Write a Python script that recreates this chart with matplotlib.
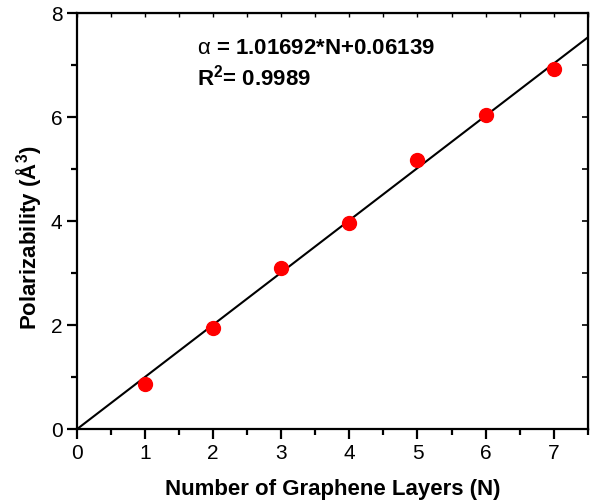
import numpy as np
import matplotlib.pyplot as plt
from matplotlib.ticker import MultipleLocator

plt.rcParams['font.family'] = ['Liberation Sans', 'DejaVu Sans']
plt.rcParams['mathtext.fontset'] = 'custom'
plt.rcParams['mathtext.rm'] = 'Liberation Sans'
plt.rcParams['mathtext.bf'] = 'Liberation Sans:bold'

# data
layers = [1, 2, 3, 4, 5, 6, 7]
polarizability = [0.86, 1.94, 3.10, 3.97, 5.17, 6.04, 6.92]
fit_x = [0.0, 7.5]
fit_y = [0.0, 7.53]

fig = plt.figure(figsize=(5.93, 5.03), dpi=100)
ax = fig.add_axes([0.13, 0.147, 0.861, 0.827])

ax.plot(fit_x, fit_y, color='black', lw=1.5, zorder=2)
ax.plot(layers, polarizability, 'o', color='red', ms=10, mec='red', zorder=3)

ax.set_xlim(0, 7.5)
ax.set_ylim(0, 8)
ax.xaxis.set_major_locator(MultipleLocator(1))
ax.xaxis.set_minor_locator(MultipleLocator(0.5))
ax.yaxis.set_major_locator(MultipleLocator(2))
ax.yaxis.set_minor_locator(MultipleLocator(1))

for s in ax.spines.values():
    s.set_linewidth(1.6)
ax.tick_params(which='major', direction='out', length=7, width=1.6, labelsize=15)
ax.tick_params(which='minor', direction='out', length=4, width=1.6)
ax.tick_params(which='both', top=False, right=False)

# inward ticks on top and right, no labels
sec_x = ax.secondary_xaxis('top')
sec_x.xaxis.set_major_locator(MultipleLocator(0.5))
sec_x.tick_params(which='major', direction='in', length=3, width=1.0, labeltop=False)
sec_x.tick_params(which='minor', length=0)
sec_y = ax.secondary_yaxis('right')
sec_y.yaxis.set_major_locator(MultipleLocator(1))
sec_y.tick_params(which='major', direction='in', length=4, width=1.2, labelright=False)
sec_y.tick_params(which='minor', length=0)

ax.set_xlabel('Number of Graphene Layers (N)', fontsize=16, fontweight='bold', labelpad=12)
ax.set_ylabel('Polarizability (Å$^\\mathbf{3}$)', fontsize=16, fontweight='bold')
ax.yaxis.set_label_coords(-0.064, 0.46)

ax.text(0.235, 0.915, '$\\mathrm{\\alpha}$ = 1.01692*N+0.06139', transform=ax.transAxes,
        fontsize=16, fontweight='bold', va='center')
ax.text(0.235, 0.845, 'R$^\\mathbf{2}$= 0.9989', transform=ax.transAxes,
        fontsize=16, fontweight='bold', va='center')

fig.savefig('out.png', dpi=100)
